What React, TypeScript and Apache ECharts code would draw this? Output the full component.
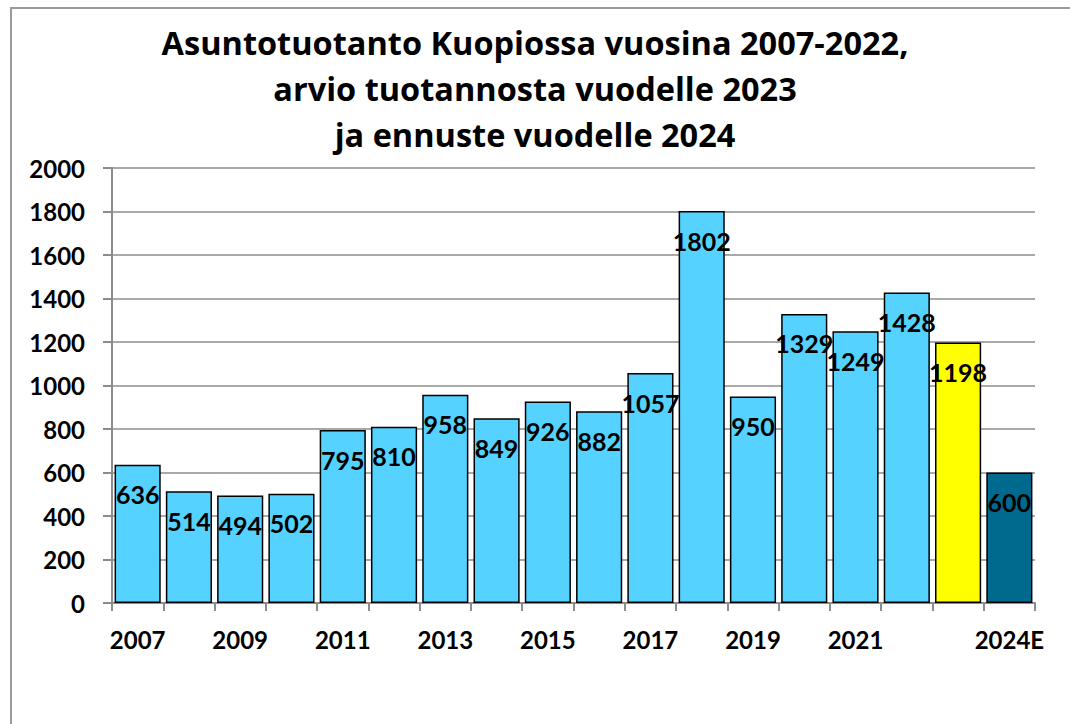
import React, { useEffect, useRef } from "react";
import * as echarts from "echarts";

const years = ["2007","2008","2009","2010","2011","2012","2013","2014","2015","2016","2017","2018","2019","2020","2021","2022","2023","2024E"];
const values = [636,514,494,502,795,810,958,849,926,882,1057,1802,950,1329,1249,1428,1198,600];
const yTicks = [0,200,400,600,800,1000,1200,1400,1600,1800,2000];
const titleLines = ["Asuntotuotanto Kuopiossa vuosina 2007-2022,", "arvio tuotannosta vuodelle 2023", "ja ennuste vuodelle 2024"];

const FONT = "Lato, 'Open Sans', sans-serif";
const TITLE_FONT = "'Open Sans', Lato, sans-serif";

function colorFor(year: string) {
  if (year === "2023") return "#ffff00";
  if (year === "2024E") return "#006a8e";
  return "#55d2ff";
}

export default function App() {
  const ref = useRef<HTMLDivElement>(null);
  useEffect(() => {
    document.body.style.margin = "0";
    const chart = echarts.init(ref.current!, null, { renderer: "svg" });
    chart.setOption({
      animation: false,
      backgroundColor: "#ffffff",
      title: {
        text: titleLines.join("\n"),
        left: "center",
        top: 14,
        textStyle: { fontFamily: TITLE_FONT, fontWeight: "bold", fontSize: 32.5, lineHeight: 46, color: "#000" },
      },
      graphic: [
        { type: "rect", shape: { x: 11, y: 8, width: 1200, height: 900 }, style: { fill: "none", stroke: "#9a9a9a", lineWidth: 2 }, silent: true },
      ],
      grid: { left: 112, right: 35, top: 168, bottom: 121, containLabel: false },
      xAxis: {
        type: "category",
        data: years,
        axisLine: { lineStyle: { color: "#8c8c8c", width: 2 } },
        axisTick: { show: true, interval: 0, length: 8, lineStyle: { color: "#8c8c8c", width: 2 } },
        axisLabel: {
          interval: (i: number) => (i % 2 === 0 && i < 16) || i === years.length - 1,
          fontFamily: FONT, fontWeight: "bold", fontSize: 24, color: "#000", margin: 24,
        },
      },
      yAxis: {
        type: "value",
        min: yTicks[0],
        max: yTicks[yTicks.length - 1],
        interval: yTicks[1] - yTicks[0],
        axisLine: { show: true, lineStyle: { color: "#8c8c8c", width: 2 } },
        axisTick: { show: true, length: 9, lineStyle: { color: "#8c8c8c", width: 2 } },
        splitLine: { lineStyle: { color: "#8c8c8c", width: 1.5 } },
        axisLabel: {
          formatter: (v: number) => String(v),
          fontFamily: FONT, fontWeight: "bold", fontSize: 24, color: "#000", margin: 27,
        },
      },
      series: [
        {
          type: "bar",
          barCategoryGap: "10%",
          data: values.map((v, i) => ({ value: v, itemStyle: { color: colorFor(years[i]) } })),
          itemStyle: { borderColor: "#000", borderWidth: 1.5 },
          label: {
            show: true,
            position: "insideTop",
            distance: 17,
            fontFamily: FONT, fontWeight: "bold", fontSize: 25, color: "#000",
          },
        },
      ],
    });
    return () => chart.dispose();
  }, []);
  return <div ref={ref} style={{ width: 1070, height: 724 }} />;
}
